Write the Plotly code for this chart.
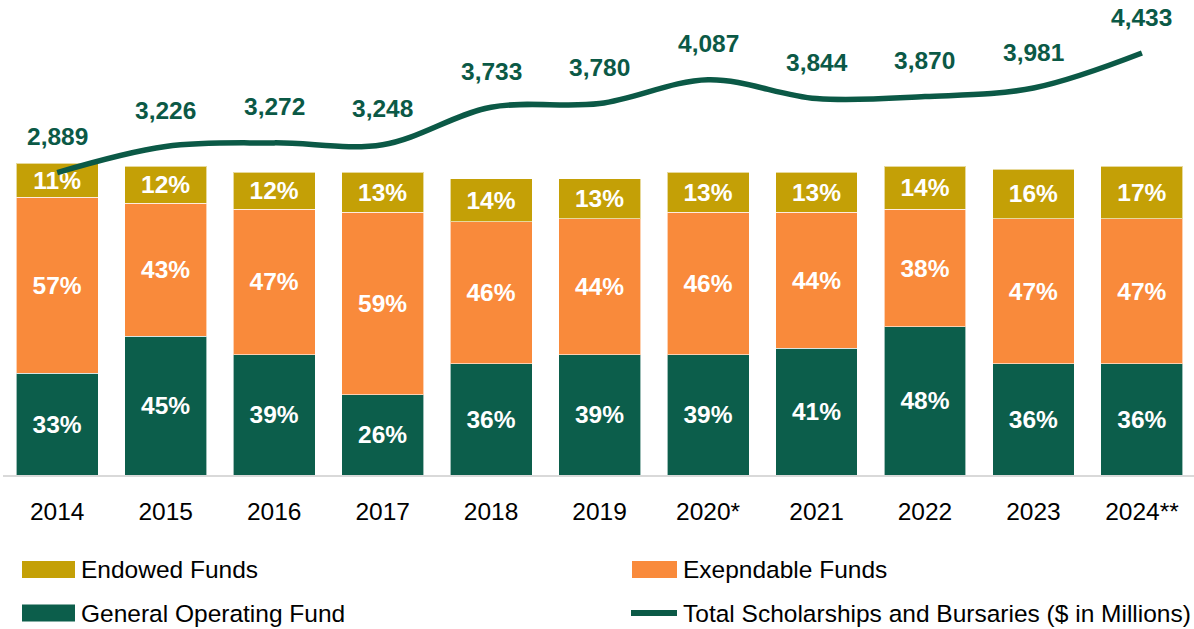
import plotly.graph_objects as go

years = ["2014", "2015", "2016", "2017", "2018", "2019", "2020*", "2021", "2022", "2023", "2024**"]
general_operating = [33, 45, 39, 26, 36, 39, 39, 41, 48, 36, 36]
expendable = [57, 43, 47, 59, 46, 44, 46, 44, 38, 47, 47]
endowed = [11, 12, 12, 13, 14, 13, 13, 13, 14, 16, 17]
totals = [2889, 3226, 3272, 3248, 3733, 3780, 4087, 3844, 3870, 3981, 4433]

FONT = "Liberation Sans Narrow, Arial Narrow, Liberation Sans, Arial, sans-serif"
GREEN = "#0C5E4B"
ORANGE = "#F98A3B"
GOLD = "#C4A006"
LINE = "#0B5946"
FS = 24.5

W, H = 1194, 629
ML, MR, MT, MB = 3, 0, 0, 154
PW, PH = W - ML - MR, H - MT - MB

fig = go.Figure()


def bar(name, vals, color):
    fig.add_trace(go.Bar(
        x=years, y=vals, name=name,
        marker=dict(color=color, line=dict(color="rgba(255,255,255,0.6)", width=1)),
        texttemplate="%{y}%", textposition="inside", insidetextanchor="middle",
        textfont=dict(family=FONT, size=FS, color="white", weight="bold"),
        hoverinfo="skip", showlegend=False,
    ))


bar("General Operating Fund", general_operating, GREEN)
bar("Exepndable Funds", expendable, ORANGE)
bar("Endowed Funds", endowed, GOLD)

fig.add_trace(go.Scatter(
    x=years, y=totals, yaxis="y2", mode="lines",
    name="Total Scholarships and Bursaries ($ in Millions)",
    line=dict(color=LINE, width=5.5, shape="spline", smoothing=1.0),
    showlegend=False, hoverinfo="skip",
))

for i, v in enumerate(totals):
    fig.add_annotation(
        x=i, y=v, xref="x", yref="y2", text=f"{v:,}", showarrow=False,
        yshift=36, yanchor="middle",
        font=dict(family=FONT, size=FS, color=LINE, weight="bold"),
    )


def px_x(px):
    return (px - ML) / PW


def px_y(py):
    return (H - MB - py) / PH


# custom legend
legend_items = [
    ("Endowed Funds", GOLD, "box", 22, 75, 569.5, 79),
    ("General Operating Fund", GREEN, "box", 22, 75, 613, 79),
    ("Exepndable Funds", ORANGE, "box", 632, 677, 569.5, 681),
    ("Total Scholarships and Bursaries ($ in Millions)", LINE, "line", 631, 677, 613, 681),
]
for label, color, kind, x0, x1, yc, tx in legend_items:
    if kind == "box":
        fig.add_shape(type="rect", xref="paper", yref="paper",
                      x0=px_x(x0), x1=px_x(x1), y0=px_y(yc + 8.5), y1=px_y(yc - 8.5),
                      fillcolor=color, line=dict(width=0))
    else:
        fig.add_shape(type="line", xref="paper", yref="paper",
                      x0=px_x(x0), x1=px_x(x1), y0=px_y(yc), y1=px_y(yc),
                      line=dict(color=color, width=6))
    fig.add_annotation(xref="paper", yref="paper", x=px_x(tx), y=px_y(yc),
                       xanchor="left", yanchor="middle", showarrow=False, text=label,
                       font=dict(family=FONT, size=FS, color="#000000"))

fig.update_layout(
    width=W, height=H,
    margin=dict(l=ML, r=MR, t=MT, b=MB),
    barmode="stack", bargap=0.245,
    plot_bgcolor="white", paper_bgcolor="white",
    showlegend=False,
    uniformtext=dict(mode="show", minsize=FS),
    xaxis=dict(
        type="category", range=[-0.5, 10.48],
        showline=True, linecolor="#D9D9D9", linewidth=1.5,
        ticks="", ticklabelstandoff=14,
        tickfont=dict(family=FONT, size=FS, color="#000000"),
        showgrid=False, zeroline=False, fixedrange=True, automargin=False,
    ),
    yaxis=dict(range=[0, 153.8], visible=False, showgrid=False, fixedrange=True),
    yaxis2=dict(range=[-1019, 5118], overlaying="y", side="right", visible=False,
                showgrid=False, fixedrange=True),
)

fig.write_html(
    "out.html",
    config={"displayModeBar": False, "staticPlot": True},
    post_script="document.body.style.margin='0px';document.body.style.overflow='hidden';",
)
